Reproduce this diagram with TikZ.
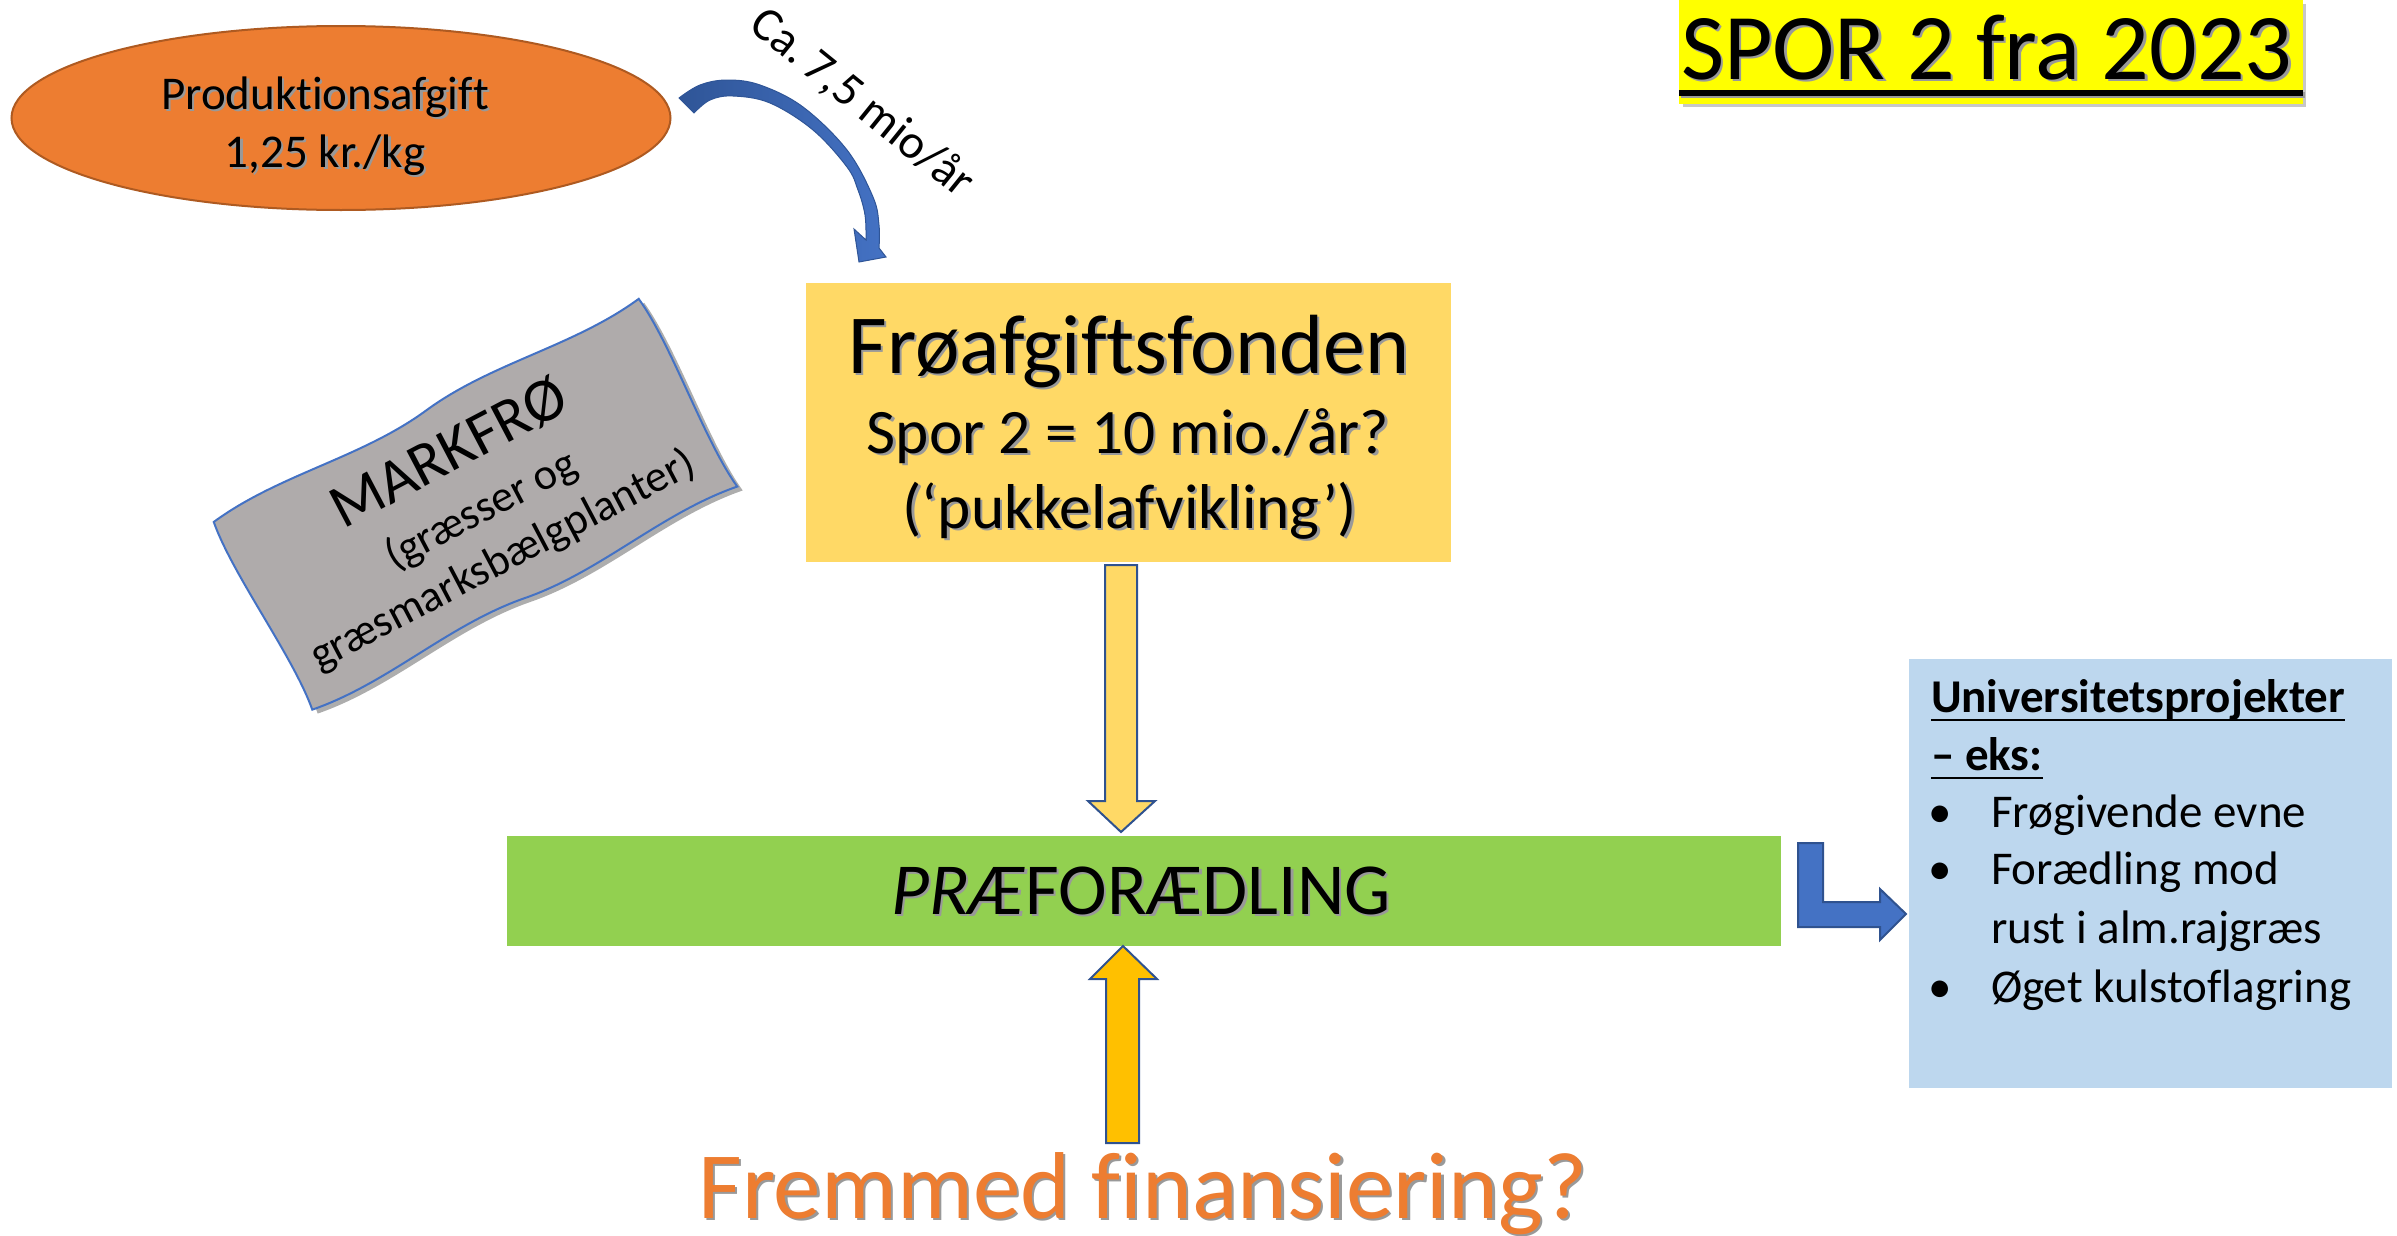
\documentclass[tikz,border=0pt]{standalone}
\usepackage{fontspec}
\setmainfont{Carlito}[Ligatures=NoCommon]
\usetikzlibrary{shapes.geometric,calc}
\definecolor{orgfill}{HTML}{ED7D31}
\definecolor{orgline}{HTML}{AE5A21}
\definecolor{yelbox}{HTML}{FFD966}
\definecolor{grnbox}{HTML}{92D050}
\definecolor{blubox}{HTML}{BDD7EE}
\definecolor{arrblue}{HTML}{4472C4}
\definecolor{arrdark}{HTML}{2F5597}
\definecolor{arrline}{HTML}{2F528F}
\definecolor{upfill}{HTML}{FFC000}
\definecolor{grayshape}{HTML}{AFABAB}
\definecolor{hilite}{HTML}{FFFF00}
\newcommand\shd[1]{\leavevmode\rlap{\hspace{0.7pt}\raisebox{-0.7pt}{\textcolor{black!40}{#1}}}#1}
\begin{document}
\begin{tikzpicture}[x=0.3pt,y=-0.3pt,
  txt/.style={inner sep=0pt, outer sep=0pt, text=black},
  boxnode/.style={draw=none, inner sep=0pt, outer sep=0pt, anchor=north west},
  blockarr/.style={draw=arrline, line width=0.6pt, line join=miter},
  unitxt/.style={txt, anchor=base west, font=\fontsize{14.1}{17}\selectfont},
]
\useasboundingbox (0,0) rectangle (2397,1235);

% title
\fill[black!22] (1683,4) rectangle (2306,107);
\node[boxnode, fill=hilite, minimum width=187.2pt, minimum height=31.2pt] (titlebox) at (1679,0) {};
\node[txt, anchor=base west, font=\fontsize{28.2}{34}\selectfont] (title) at (1681,79) {\shd{SPOR 2 fra 2023}};
\fill[black!40] (1681,92) rectangle (2305,98);
\fill[black] (1679,90) rectangle (2303,96);

% ellipse
\node[ellipse, fill=orgfill, draw=orgline, line width=0.6pt, minimum width=197.7pt, minimum height=55.2pt, inner sep=0pt] (prod) at (341,118) {};
\node[txt, anchor=base, font=\fontsize{14.1}{17}\selectfont] (prodA) at (325,109) {\shd{Produktionsafgift}};
\node[txt, anchor=base, font=\fontsize{14.1}{17}\selectfont] (prodB) at (325,167) {\shd{1,25 kr./kg}};

% curved arrow
\path[left color=arrdark, right color=arrblue, draw=arrdark, line width=0.3pt]
  plot[smooth, tension=0.6] coordinates {(679,98) (700,85) (727,80) (760,85) (803,107) (847,150) (873,197) (879,225) (879,248)}
  -- (886,257) -- (859,262) -- (854,229)
  -- plot[smooth, tension=0.6] coordinates {(866,240) (865,215) (858,190) (847,167) (813,130) (770,103) (733,96) (710,100) (694,113)}
  -- cycle;
\node[txt, font=\fontsize{14.4}{17}\selectfont, rotate=-39] (lbl) at (862,103) {Ca.\,7,5 mio/år};

% MARKFRO shape
\begin{scope}[shift={(475.5,504.25)}, rotate=27.7]
  \fill[black!32, shift={(3,6)}]
    (-240,-106) .. controls (-160,-118) and (-80,-94) .. (0,-106) .. controls (80,-118) and (160,-94) .. (240,-106)
    .. controls (248,-50) and (232,50) .. (240,106)
    .. controls (160,94) and (80,118) .. (0,106) .. controls (-80,94) and (-160,118) .. (-240,106)
    .. controls (-232,50) and (-248,-50) .. (-240,-106) -- cycle;
  \filldraw[fill=grayshape, draw=arrblue, line width=0.6pt]
    (-240,-106) .. controls (-160,-118) and (-80,-94) .. (0,-106) .. controls (80,-118) and (160,-94) .. (240,-106)
    .. controls (248,-50) and (232,50) .. (240,106)
    .. controls (160,94) and (80,118) .. (0,106) .. controls (-80,94) and (-160,118) .. (-240,106)
    .. controls (-232,50) and (-248,-50) .. (-240,-106) -- cycle;
  \node[txt, transform shape, anchor=base, font=\fontsize{18.6}{22}\selectfont] (mk1) at (0,-39) {MARKFRØ};
  \node[txt, transform shape, anchor=base, font=\fontsize{13.3}{16}\selectfont] (mk2) at (2,21) {(græsser og};
  \node[txt, transform shape, anchor=base, font=\fontsize{13.3}{16}\selectfont] (mk3) at (-2,75) {græsmarksbælgplanter)};
\end{scope}

% fond box
\node[boxnode, fill=yelbox, minimum width=193.5pt, minimum height=83.7pt] (fond) at (806,283) {};
\node[txt, anchor=base, font=\fontsize{25.2}{30}\selectfont] (fond1) at (1129,373) {\shd{Frøafgiftsfonden}};
\node[txt, anchor=base, font=\fontsize{19}{23}\selectfont] (fond2) at (1128,453) {\shd{Spor 2 = 10 mio./år?}};
\node[txt, anchor=base, font=\fontsize{19}{23}\selectfont] (fond3) at (1130,528) {\shd{(‘pukkelafvikling’)}};

% green box
\node[boxnode, fill=grnbox, minimum width=382.2pt, minimum height=33pt] (prae) at (507,836) {};
\node[txt, anchor=base, font=\fontsize{22}{26}\selectfont] (praetxt) at (1141,914) {\shd{\textit{PRÆ}FORÆDLING}};

% blue box
\node[boxnode, fill=blubox, minimum width=144.9pt, minimum height=128.7pt] (uni) at (1909,659) {};
\node[unitxt, font=\fontsize{14.1}{17}\selectfont\bfseries] (u1) at (1931,712) {Universitetsprojekter};
\node[unitxt, font=\fontsize{14.1}{17}\selectfont\bfseries] (u2) at (1931,770) {– eks:};
\draw[line width=0.75pt] ($(u1.base west)+(0,8)$) -- ($(u1.base east)+(0,8)$);
\draw[line width=0.75pt] ($(u2.base west)+(0,8)$) -- ($(u2.base east)+(0,8)$);
\node[unitxt] (b1) at (1928,827) {\textbullet};
\node[unitxt] (b2) at (1928,884) {\textbullet};
\node[unitxt] (b3) at (1928,1002) {\textbullet};
\node[unitxt] (u3) at (1991,827) {Frøgivende evne};
\node[unitxt] (u4) at (1991,884) {Forædling mod};
\node[unitxt] (u5) at (1991,943) {rust i alm.rajgræs};
\node[unitxt] (u6) at (1991,1002) {Øget kulstoflagring};

% bottom text
\node[txt, anchor=base, text=orgfill, font=\fontsize{28.5}{34}\selectfont] (frem) at (1143,1218) {\shd{Fremmed finansiering?}};

% down block arrow fond -> prae
\draw[blockarr, fill=yelbox] ($(1105,0|-fond.south)+(0,3)$) -- ($(1137,0|-fond.south)+(0,3)$) -- (1137,801) -- (1155,801)
  -- ($(1121,0|-prae.north)+(0,-4)$) -- (1088,801) -- (1105,801) -- cycle;

% up block arrow frem -> prae
\draw[blockarr, fill=upfill] (1106,1143) -- (1106,979) -- (1090,979) -- (1123,0|-prae.south) -- (1157,979) -- (1139,979) -- (1139,1143) -- cycle;

% bent arrow prae -> uni
\draw[blockarr, fill=arrblue] (1798,843) -- (1823,843) -- (1823,902) -- (1880,902) -- (1880,889) -- ($(uni.west|-1906,914)+(-3,0)$)
  -- (1880,940) -- (1880,927) -- (1798,927) -- cycle;
\end{tikzpicture}
\end{document}
